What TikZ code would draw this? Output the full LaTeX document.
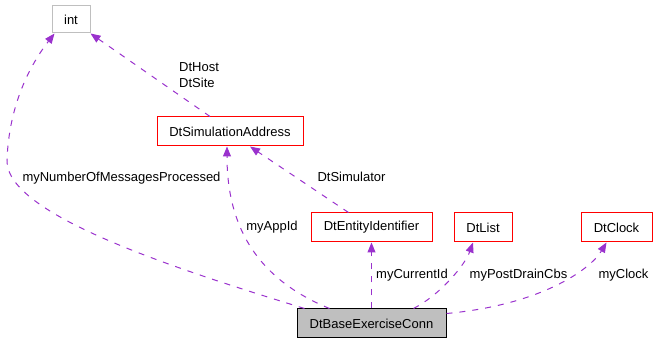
\documentclass[tikz,border=0pt]{standalone}
\usepackage{fontspec}
\setmainfont{Liberation Sans}
\usetikzlibrary{arrows.meta, calc}
\definecolor{doxEdge}{HTML}{9A32CD}
\definecolor{doxRed}{HTML}{FF0000}
\definecolor{doxGray}{HTML}{BFBFBF}
\tikzset{
  classbox/.style={rectangle, draw=doxRed, line width=1pt, fill=white,
    minimum height=29pt, inner sep=2pt, font=\fontsize{13}{15}\selectfont},
  typebox/.style={classbox, draw=doxGray},
  mainbox/.style={classbox, draw=black, fill=doxGray},
  usage/.style={doxEdge, line width=1pt, dash pattern=on 6pt off 7pt,
    -{Triangle[length=10pt, width=8pt]}},
  edgelabel/.style={font=\fontsize{13}{16}\selectfont, inner sep=0pt, align=left},
}

\begin{document}
\begin{tikzpicture}[x=1pt, y=-1pt]
    \useasboundingbox (0,0) rectangle (657,344);
    % classes
    \node[typebox, minimum width=38pt, minimum height=27pt] (int) at (71,19.5) {int};
    \node[classbox, minimum width=146pt] (simaddr) at (230,131.5) {DtSimulationAddress};
    \node[classbox, minimum width=121pt] (entity) at (371.5,227.5) {DtEntityIdentifier};
    \node[classbox, minimum width=58pt] (dtlist) at (483,227.5) {DtList};
    \node[classbox, minimum width=71pt] (clock) at (616.5,227.5) {DtClock};
    \node[mainbox, minimum width=149pt] (conn) at (371.5,323.5) {DtBaseExerciseConn};
    % usage relations
    \draw[usage] ([xshift=8pt]conn.north west)
      .. controls (180,270) and (5,215) .. (7,160)
      .. controls (9,105) and (30,65) .. ([xshift=3pt]int.south west);
    \draw[usage] ([xshift=-20pt]simaddr.north) -- (int.south east);
    \draw[usage] ([xshift=-23pt]entity.north) -- ([xshift=20pt]simaddr.south);
    \draw[usage] ([xshift=33pt]conn.north west)
      .. controls (260,280) and (227,230) .. ([xshift=-3pt]simaddr.south);
    \draw[usage] (conn.north) -- (entity.south);
    \draw[usage] ([xshift=42pt]conn.north)
      .. controls (440,295) and (465,265) .. ([xshift=-10pt]dtlist.south);
    \draw[usage] ([yshift=-5pt]conn.north east)
      .. controls (540,305) and (590,270) .. ([xshift=-10pt]clock.south);
    % labels
    \node[edgelabel, anchor=west] (hostlbl) at (179,75) {DtHost\\DtSite};
    \node[edgelabel] (simlbl) at (351.5,177) {DtSimulator};
    \node[edgelabel] (msglbl) at (121.5,178) {myNumberOfMessagesProcessed};
    \node[edgelabel] (applbl) at (272,227) {myAppId};
    \node[edgelabel] (curlbl) at (412,275) {myCurrentId};
    \node[edgelabel] (drainlbl) at (518.5,275) {myPostDrainCbs};
    \node[edgelabel] (clocklbl) at (623.5,275) {myClock};
\end{tikzpicture}
\end{document}
